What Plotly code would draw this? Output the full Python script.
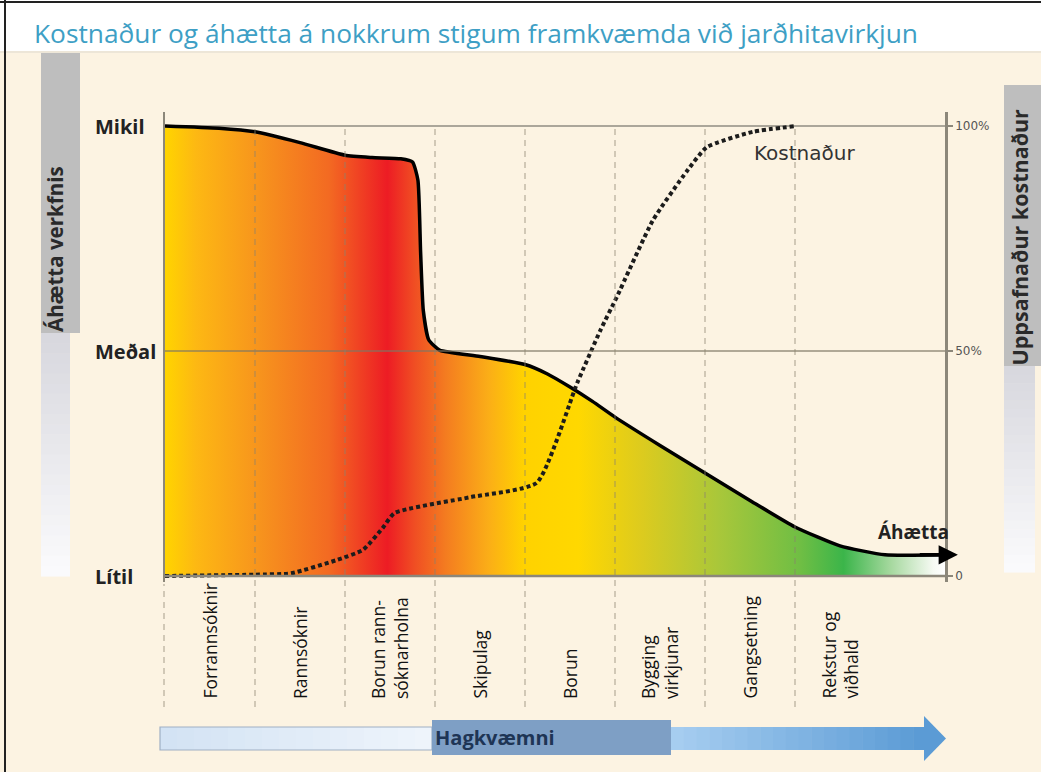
import plotly.graph_objects as go

# ---------------- data ----------------
stages = ["Forrannsóknir", "Rannsóknir", "Borun rann-<br>sóknarholna", "Skipulag",
          "Borun", "Bygging<br>virkjunar", "Gangsetning", "Rekstur og<br>viðhald"]

# risk of project ("Áhætta"), 0 = Lítil, 0.5 = Meðal, 1 = Mikil ; x in stage units
risk_x = [0, 0.6, 1.0, 1.5, 2.0, 2.3, 2.62, 2.75, 2.81, 2.84, 2.87, 2.93, 3.05,
          3.5, 4.0, 4.25, 4.5, 4.75, 5.0, 5.5, 6.0, 6.5, 7.0, 7.5, 8.0, 8.67]
risk_y = [1.0, 0.995, 0.987, 0.963, 0.935, 0.93, 0.927, 0.92, 0.88, 0.72, 0.59, 0.525, 0.502,
          0.488, 0.47, 0.449, 0.42, 0.388, 0.353, 0.29, 0.229, 0.168, 0.109, 0.067, 0.047, 0.047]

# cumulative cost ("Kostnaður"), 0..1 = 0..100 %
cost_x = [0, 1.0, 1.4, 1.9, 2.2, 2.42, 2.55, 3.39, 4.13, 4.58, 4.84, 5.02, 5.42, 5.8, 6.02, 6.53, 7.02]
cost_y = [0, 0.003, 0.006, 0.035, 0.058, 0.107, 0.14, 0.175, 0.207, 0.429, 0.547, 0.62, 0.79, 0.90, 0.953, 0.987, 1.0]

risk_ticks = [0, 0.5, 1]
risk_labels = ["Lítil", "Meðal", "Mikil"]
cost_labels = ["0", "50%", "100%"]

title_text = "Kostnaður og áhætta á nokkrum stigum framkvæmda við jarðhitavirkjun"

# ---------------- geometry / style ----------------
W, H = 1041, 772
ML, MR, MT, MB = 165, 96, 112, 190
PW, PH = W - ML - MR, H - MT - MB
X_MAX = PW / 90.0
Y_LO = -(H - MB - 576) / 450.0
Y_HI = (576 - MT) / 450.0
CREAM = "#FCF3E2"


def pxx(x):
    return (x - ML) / PW


def pxy(y):
    return (H - MB - y) / PH


def mix(c0, c1, t):
    a = [int(c0[i:i + 2], 16) for i in (1, 3, 5)]
    b = [int(c1[i:i + 2], 16) for i in (1, 3, 5)]
    return "rgb(%d,%d,%d)" % tuple(round(a[k] + (b[k] - a[k]) * t) for k in range(3))


grad = [[0.0, "#FFD400"], [0.04, "#FDB813"], [0.12, "#F7941D"], [0.21, "#F36A22"],
        [0.285, "#ED1C24"], [0.32, "#F04E23"], [0.36, "#F47C20"], [0.415, "#FBAE17"],
        [0.46, "#FFD200"], [0.53, "#FFD800"], [0.61, "#DDCB1E"], [0.71, "#A9C73A"],
        [0.815, "#6FBE44"], [0.87, "#3BB54A"], [0.93, "#A5D89E"], [0.985, "#F6FAF3"],
        [1.0, "#FFFFFF"]]

fig = go.Figure()

fig.add_trace(go.Scatter(
    x=risk_x, y=risk_y, mode="lines",
    line=dict(color="black", width=3.5, shape="spline", smoothing=0.5),
    fill="tozeroy",
    fillgradient=dict(type="horizontal", colorscale=grad, start=0, stop=X_MAX),
    hoverinfo="skip", showlegend=False))

fig.add_trace(go.Scatter(
    x=cost_x, y=cost_y, yaxis="y2", mode="lines",
    line=dict(color="#1c1c1c", width=4, dash="4px,3px", shape="spline", smoothing=0.5),
    hoverinfo="skip", showlegend=False))

shapes = []
# white title band
shapes.append(dict(type="rect", xref="paper", yref="paper", x0=pxx(0), x1=pxx(W),
                   y0=pxy(52), y1=pxy(0), fillcolor="white", line_width=0, layer="below"))
shapes.append(dict(type="line", xref="paper", yref="paper", x0=pxx(0), x1=pxx(W),
                   y0=pxy(52), y1=pxy(52), line=dict(color="#EDE6D8", width=2), layer="below"))
# frame (top/left)
shapes.append(dict(type="line", xref="paper", yref="paper", x0=pxx(0), x1=pxx(W),
                   y0=pxy(2), y1=pxy(2), line=dict(color="#222", width=2)))
shapes.append(dict(type="line", xref="paper", yref="paper", x0=pxx(5), x1=pxx(5),
                   y0=pxy(0), y1=pxy(H), line=dict(color="#222", width=2)))


def vgrad(x0, x1, y0, y1, c0, c1, n=24):
    for i in range(n):
        ya = y0 + (y1 - y0) * i / n
        yb = y0 + (y1 - y0) * (i + 1) / n + 0.6
        shapes.append(dict(type="rect", xref="paper", yref="paper", x0=pxx(x0), x1=pxx(x1),
                           y0=pxy(yb), y1=pxy(ya), fillcolor=mix(c0, c1, i / (n - 1)),
                           line_width=0, layer="below"))


def hgrad(x0, x1, y0, y1, c0, c1, n=24):
    for i in range(n):
        xa = x0 + (x1 - x0) * i / n
        xb = x0 + (x1 - x0) * (i + 1) / n + 0.6
        shapes.append(dict(type="rect", xref="paper", yref="paper", x0=pxx(xa), x1=pxx(xb),
                           y0=pxy(y1), y1=pxy(y0), fillcolor=mix(c0, c1, i / (n - 1)),
                           line_width=0, layer="below"))


# left axis-title bar
shapes.append(dict(type="rect", xref="paper", yref="paper", x0=pxx(41), x1=pxx(80),
                   y0=pxy(333), y1=pxy(53), fillcolor="#BEBEBE", line_width=0, layer="below"))
vgrad(41, 70, 333, 576, "#D8D8DE", "#FAFAFC")
# right axis-title bar
shapes.append(dict(type="rect", xref="paper", yref="paper", x0=pxx(1004), x1=pxx(1041),
                   y0=pxy(366), y1=pxy(85), fillcolor="#BEBEBE", line_width=0, layer="below"))
vgrad(1004, 1035, 366, 572, "#D8D8DE", "#FAFAFC")

# grid lines over the fill
shapes.append(dict(type="line", xref="paper", yref="y", x0=0, x1=1, y0=1, y1=1,
                   line=dict(color="#ABA69A", width=2), layer="below"))
shapes.append(dict(type="line", xref="paper", yref="y", x0=0, x1=1, y0=0.5, y1=0.5,
                   line=dict(color="rgba(125,118,100,0.6)", width=2), layer="above"))
for k in range(1, len(stages)):
    shapes.append(dict(type="line", xref="x", yref="paper", x0=k, x1=k,
                       y0=pxy(707), y1=pxy(126),
                       line=dict(color="rgba(140,130,110,0.5)", width=1.5, dash="6px,5px"),
                       layer="above"))
shapes.append(dict(type="line", xref="paper", yref="paper", x0=pxx(164), x1=pxx(164),
                   y0=pxy(707), y1=pxy(584),
                   line=dict(color="rgba(140,130,110,0.5)", width=1.5, dash="6px,5px")))
# bottom axis line
shapes.append(dict(type="line", xref="paper", yref="y", x0=0, x1=1, y0=0, y1=0,
                   line=dict(color="#8C877A", width=2.5), layer="above"))

# Hagkvæmni arrow
hgrad(160, 432, 727, 750, "#D3E3F4", "#EEF4FB", 16)
shapes.append(dict(type="rect", xref="paper", yref="paper", x0=pxx(160), x1=pxx(432),
                   y0=pxy(750), y1=pxy(727), line=dict(color="#9FB0C4", width=1.2)))
hgrad(671, 926, 727, 750, "#A6CDF0", "#5B9BD5", 20)
shapes.append(dict(type="path", xref="paper", yref="paper",
                   path="M %f,%f L %f,%f L %f,%f Z" % (pxx(924), pxy(716), pxx(946), pxy(738.5),
                                                        pxx(924), pxy(761)),
                   fillcolor="#5B9BD5", line_width=0))
shapes.append(dict(type="rect", xref="paper", yref="paper", x0=pxx(432), x1=pxx(671),
                   y0=pxy(755), y1=pxy(720), fillcolor="#7E9FC5", line_width=0))

ann = []
ann.append(dict(text=title_text, xref="paper", yref="paper", x=pxx(32), y=pxy(33),
                xanchor="left", yanchor="middle", showarrow=False,
                font=dict(family="Open Sans", size=26.3, color="#3E9FC5")))
ann.append(dict(text="<b>Áhætta verkfnis</b>", xref="paper", yref="paper", x=pxx(55), y=pxy(334),
                xanchor="center", yanchor="bottom", textangle=-90, showarrow=False,
                font=dict(family="Open Sans", size=20.5, color="#2A2A2A")))
ann.append(dict(text="<b>Uppsafnaður kostnaður</b>", xref="paper", yref="paper", x=pxx(1019),
                y=pxy(368), xanchor="center", yanchor="bottom", textangle=-90, showarrow=False,
                font=dict(family="Open Sans", size=21.5, color="#2A2A2A")))
for v, lab in zip(risk_ticks, risk_labels):
    ann.append(dict(text="<b>%s</b>" % lab, xref="paper", yref="y", x=pxx(93), y=v,
                    xanchor="left", yanchor="middle", showarrow=False,
                    font=dict(family="Open Sans", size=20, color="#222")))
for i, s in enumerate(stages):
    ann.append(dict(text=s, xref="x", yref="paper", x=i + 0.5, y=pxy(701),
                    xanchor="center", yanchor="bottom", textangle=-90, align="left",
                    showarrow=False, font=dict(family="Open Sans", size=17.5, color="#111")))
ann.append(dict(text="Kostnaður", xref="x", yref="y2", x=6.52, y=0.94,
                xanchor="left", yanchor="middle", showarrow=False,
                font=dict(family="DejaVu Sans", size=20, color="#333")))
ann.append(dict(text="<b>Áhætta</b>", xref="x", yref="y", x=7.9, y=0.098,
                xanchor="left", yanchor="middle", showarrow=False,
                font=dict(family="Open Sans", size=19, color="#222")))
# arrow head at the end of the risk line
ann.append(dict(text="", xref="x", yref="y", axref="x", ayref="y",
                x=risk_x[-1] + 0.14, y=risk_y[-1], ax=risk_x[-1] - 0.3, ay=risk_y[-1],
                showarrow=True, arrowhead=2, arrowsize=1.1, arrowwidth=3.5, arrowcolor="black"))
ann.append(dict(text="<b>Hagkvæmni</b>", xref="paper", yref="paper", x=pxx(433), y=pxy(737),
                xanchor="left", yanchor="middle", showarrow=False,
                font=dict(family="Open Sans", size=20, color="#1E3555")))

fig.update_layout(
    width=W, height=H,
    margin=dict(l=ML, r=MR, t=MT, b=MB, pad=0),
    paper_bgcolor=CREAM, plot_bgcolor=CREAM,
    showlegend=False,
    xaxis=dict(range=[0, X_MAX], showgrid=False, zeroline=False, showticklabels=False,
               ticks="", showline=False, fixedrange=True),
    yaxis=dict(range=[Y_LO, Y_HI], showgrid=False, zeroline=False, showticklabels=False,
               showline=True, linecolor="#8C877A", linewidth=1.5, ticks="", fixedrange=True),
    yaxis2=dict(range=[Y_LO, Y_HI], overlaying="y", side="right", showgrid=False,
                zeroline=False, showline=True, linecolor="#8C877A", linewidth=2.5,
                ticks="outside", ticklen=5, tickcolor="#8C877A", tickwidth=1.5,
                tickvals=risk_ticks, ticktext=cost_labels,
                tickfont=dict(family="DejaVu Sans", size=12, color="#555"), fixedrange=True),
    shapes=shapes, annotations=ann,
)

fig.write_html("out.html", config={"displayModeBar": False},
               post_script="document.body.style.margin='0px';document.body.style.overflow='hidden';")
